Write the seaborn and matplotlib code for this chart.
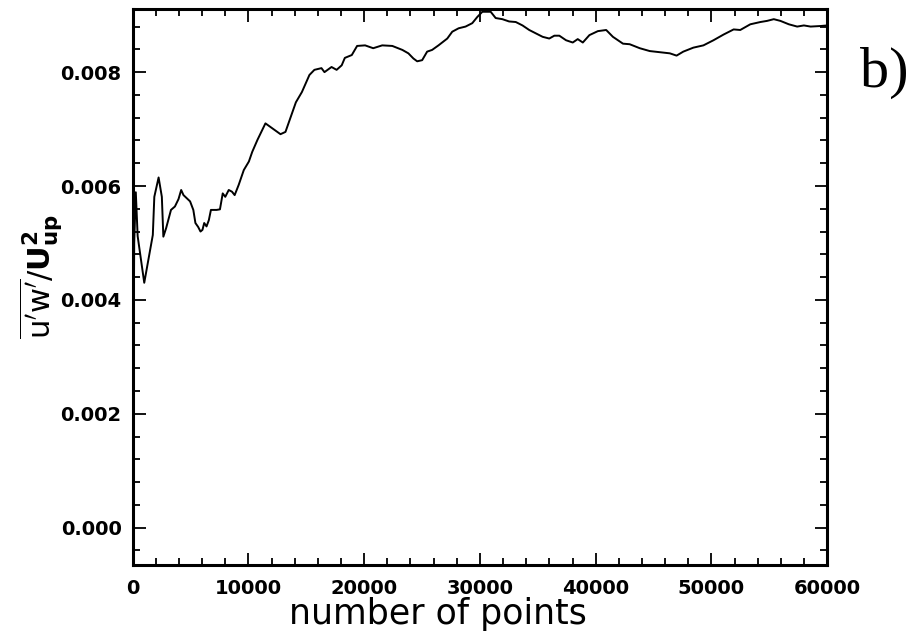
import numpy as np
import pandas as pd
import matplotlib
matplotlib.use("Agg")
import matplotlib.pyplot as plt
from matplotlib.ticker import MultipleLocator, FormatStrFormatter
import seaborn as sns

# number of points (x) and running mean of u'w'/U_up^2 (y)
n_points = [0, 40, 80, 130, 270, 430, 1000, 1740, 1870, 2240, 2520, 2650, 2890,
            3310, 3650, 3960, 4190, 4390, 4960, 5240, 5420, 5660, 5860, 6030,
            6180, 6380, 6580, 6760, 7250, 7540, 7780, 8000, 8300, 8580, 8810,
            9160, 9600, 10040, 10330, 10780, 11470, 12770, 13200, 14100, 14620,
            15270, 15700, 16310, 16570, 17180, 17620, 18060, 18330, 18930, 19390,
            20080, 20780, 21560, 22430, 23300, 23820, 24250, 24580, 25010, 25440,
            25870, 26420, 27180, 27610, 28160, 28760, 29340, 29780, 30210, 30930,
            31360, 31940, 32520, 33100, 33680, 34260, 34840, 35420, 35990, 36430,
            36860, 37440, 38020, 38450, 38890, 39460, 40190, 40910, 41490, 42360,
            42940, 43810, 44670, 45540, 46410, 46990, 47570, 48440, 49310, 50180,
            51050, 51920, 52490, 53360, 54230, 54810, 55390, 55960, 56690, 57410,
            57990, 58570, 59440, 60000]
uw_mean = [-0.00055, 0.0010, 0.0030, 0.0050, 0.00589, 0.00512, 0.00430, 0.00514,
           0.00581, 0.00615, 0.00581, 0.00511, 0.00526, 0.00558, 0.00564, 0.00577,
           0.00593, 0.00584, 0.00573, 0.00558, 0.00535, 0.00528, 0.00520, 0.00523,
           0.00535, 0.00529, 0.00540, 0.00558, 0.00558, 0.00559, 0.00587, 0.00581,
           0.00593, 0.00590, 0.00584, 0.00602, 0.00628, 0.00643, 0.00660, 0.00681,
           0.00710, 0.00691, 0.00695, 0.00747, 0.00765, 0.00795, 0.00804, 0.00807,
           0.00800, 0.00809, 0.00804, 0.00812, 0.00825, 0.00830, 0.00846, 0.00847,
           0.00842, 0.00847, 0.00846, 0.00839, 0.00833, 0.00824, 0.00819, 0.00821,
           0.00836, 0.00839, 0.00847, 0.00859, 0.00871, 0.00877, 0.00880, 0.00886,
           0.00897, 0.00906, 0.00906, 0.00895, 0.00893, 0.00889, 0.00888, 0.00882,
           0.00874, 0.00868, 0.00862, 0.00859, 0.00864, 0.00864, 0.00856, 0.00852,
           0.00858, 0.00852, 0.00865, 0.00872, 0.00874, 0.00862, 0.00850, 0.00849,
           0.00842, 0.00837, 0.00835, 0.00833, 0.00829, 0.00836, 0.00843, 0.00847,
           0.00856, 0.00866, 0.00875, 0.00874, 0.00884, 0.00888, 0.00890, 0.00893,
           0.00890, 0.00884, 0.00880, 0.00882, 0.00880, 0.00881, 0.00882]

x_ticks = [0, 10000, 20000, 30000, 40000, 50000, 60000]
y_ticks = [0.000, 0.002, 0.004, 0.006, 0.008]

sns.set_theme(style="ticks")
plt.rcParams["font.family"] = ["DejaVu Sans"]
plt.rcParams["text.color"] = "black"
plt.rcParams["axes.labelcolor"] = "black"
plt.rcParams["mathtext.fontset"] = "dejavusans"

df = pd.DataFrame({"n": n_points, "uw": uw_mean})

fig = plt.figure(figsize=(9.15, 6.33), dpi=100)
ax = fig.add_axes([0.145, 0.108, 0.759, 0.877])

sns.lineplot(data=df, x="n", y="uw", ax=ax, color="black", linewidth=1.4,
             estimator=None, sort=False)

ax.set_xlim(0, 60000)
ax.set_ylim(-0.00065, 0.0091)
ax.set_xticks(x_ticks)
ax.set_yticks(y_ticks)
ax.xaxis.set_minor_locator(MultipleLocator(2000))
ax.yaxis.set_minor_locator(MultipleLocator(0.0004))
ax.yaxis.set_major_formatter(FormatStrFormatter("%.3f"))
ax.set_xticklabels([str(v) for v in x_ticks])

ax.tick_params(which="both", direction="in", top=True, right=True,
               colors="black", width=1.3)
ax.tick_params(which="major", length=9, labelsize=14)
ax.tick_params(axis="x", which="major", pad=10)
ax.tick_params(axis="y", which="major", pad=8)
ax.tick_params(which="minor", length=5)
for lab in ax.get_xticklabels() + ax.get_yticklabels():
    lab.set_fontweight("bold")

for s in ax.spines.values():
    s.set_linewidth(2.2)
    s.set_color("black")

ax.set_xlabel("number of points", fontsize=25, color="black")
ax.xaxis.set_label_coords(0.44, -0.058)
ax.set_ylabel(r"$\overline{\mathrm{u'w'}}/\mathbf{U}_{\mathbf{up}}^{\mathbf{2}}$",
              fontsize=22, color="black")
ax.yaxis.set_label_coords(-0.098, 0.52)

fig.text(0.94, 0.885, "b)", fontsize=42, family="Liberation Serif",
         ha="left", va="center", color="black")

fig.savefig("out.png", dpi=100, facecolor="white")
